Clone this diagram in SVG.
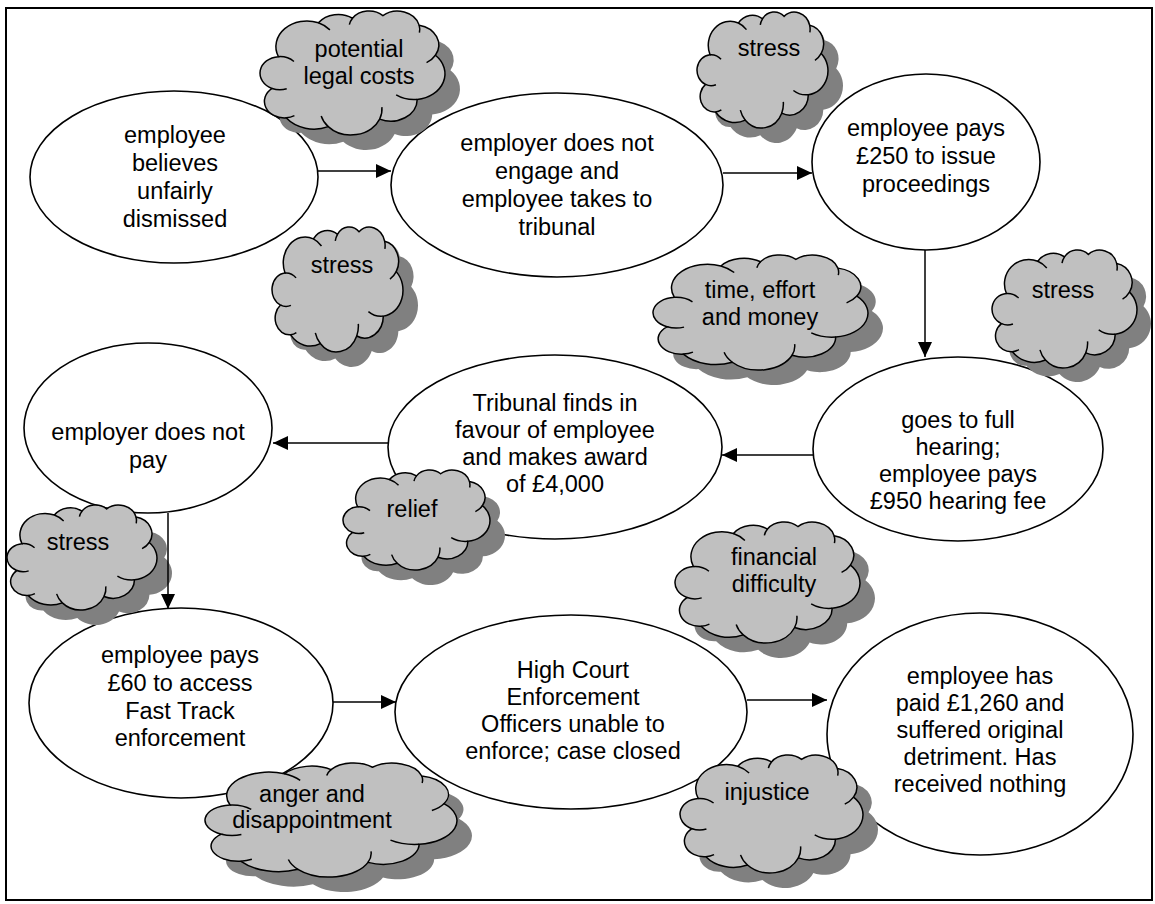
<svg xmlns="http://www.w3.org/2000/svg" xmlns:xlink="http://www.w3.org/1999/xlink" width="1155" height="904" viewBox="0 0 1155 904">
<style>
.el{fill:#fff;stroke:#000;stroke-width:1.6}
.sh{fill:#808080;stroke:none}
.cl{fill:#c0c0c0;stroke:#000;stroke-width:1.5;vector-effect:non-scaling-stroke}
.ci{fill:none;stroke:#000;stroke-width:1.5;vector-effect:non-scaling-stroke}
.ar{fill:none;stroke:#000;stroke-width:1.5;marker-end:url(#ah)}
text{font-family:"Liberation Sans",Arial,sans-serif;font-size:23.5px;text-anchor:middle;fill:#000}
</style>
<defs>
<marker id="ah" markerUnits="userSpaceOnUse" markerWidth="16" markerHeight="14" refX="15" refY="7" orient="auto">
<path d="M0,0 L15,7 L0,14 Z" fill="#000"/>
</marker>
<path id="cloud" d="M99.5,368.2 A167.2,206.7 0 0 1 315.8,95.2 A132,163.4 0 0 1 500.1,58.5 A108.1,133.7 0 0 1 664.4,37.4 A120.3,148.3 0 0 1 860.1,114.1 A132,163.6 0 0 1 948.2,357 A167.7,207.4 0 0 1 849.8,713 A143.2,176.9 0 0 1 646.8,871.9 A167.2,207.2 0 0 1 368.8,932.5 A191.1,237.1 0 0 1 141.3,861.6 A108,133.1 0 0 1 65.2,624.4 A107.6,133.7 0 0 1 99.5,368.2 Z"/>
</defs>
<rect x="0" y="0" width="1155" height="904" fill="#fff"/>

<g id="e1"><ellipse class="el" cx="174" cy="177" rx="144" ry="86"/>
<text x="175" y="143">employee</text><text x="175" y="171">believes</text><text x="175" y="199">unfairly</text><text x="175" y="227">dismissed</text></g>
<g id="e2"><ellipse class="el" cx="557" cy="185" rx="166" ry="92"/>
<text x="557" y="151">employer does not</text><text x="557" y="179">engage and</text><text x="557" y="207">employee takes to</text><text x="557" y="235">tribunal</text></g>
<g id="e3"><ellipse class="el" cx="926" cy="162" rx="114" ry="88"/>
<text x="926" y="136">employee pays</text><text x="926" y="164">£250 to issue</text><text x="926" y="192">proceedings</text></g>
<g id="e4"><ellipse class="el" cx="958" cy="449" rx="145" ry="92"/>
<text x="958" y="428">goes to full</text><text x="958" y="455">hearing;</text><text x="958" y="482">employee pays</text><text x="958" y="509">£950 hearing fee</text></g>
<g id="e5"><ellipse class="el" cx="555" cy="447" rx="167" ry="92"/>
<text x="555" y="411">Tribunal finds in</text><text x="555" y="438">favour of employee</text><text x="555" y="465">and makes award</text><text x="555" y="492">of £4,000</text></g>
<g id="e6"><ellipse class="el" cx="148" cy="428" rx="124" ry="85"/>
<text x="148" y="440">employer does not</text><text x="148" y="468">pay</text></g>
<g id="e7"><ellipse class="el" cx="181" cy="703" rx="152" ry="95"/>
<text x="180" y="663">employee pays</text><text x="180" y="691">£60 to access</text><text x="180" y="719">Fast Track</text><text x="180" y="746">enforcement</text></g>
<g id="e8"><ellipse class="el" cx="571" cy="712" rx="176" ry="97"/>
<text x="573" y="678">High Court</text><text x="573" y="705">Enforcement</text><text x="573" y="732">Officers unable to</text><text x="573" y="759">enforce; case closed</text></g>
<g id="e9"><ellipse class="el" cx="980" cy="734" rx="153" ry="121"/>
<text x="980" y="684">employee has</text><text x="980" y="711">paid £1,260 and</text><text x="980" y="738">suffered original</text><text x="980" y="765">detriment. Has</text><text x="980" y="792">received nothing</text></g>

<g id="c1"><use xlink:href="#cloud" class="sh" transform="translate(275,26) scale(0.185,0.124)"/>
<path class="cl" transform="translate(260,11) scale(0.185,0.124)" d="M99.5,368.2 A167.2,206.7 0 0 1 315.8,95.2 A132,163.4 0 0 1 500.1,58.5 A108.1,133.7 0 0 1 664.4,37.4 A120.3,148.3 0 0 1 860.1,114.1 A132,163.6 0 0 1 948.2,357 A167.7,207.4 0 0 1 849.8,713 A143.2,176.9 0 0 1 646.8,871.9 A167.2,207.2 0 0 1 368.8,932.5 A191.1,237.1 0 0 1 141.3,861.6 A108,133.1 0 0 1 65.2,624.4 A107.6,133.7 0 0 1 99.5,368.2 Z"/>
<path class="ci" transform="translate(260,11) scale(0.185,0.124)" d="M99.5,368.2 A107.6,133.7 0 0 1 183.6,406.9 M65.2,624.4 A107.6,133.7 0 0 0 144.4,627.1 M141.3,861.6 A108,133.1 0 0 0 186,844.2 M368.8,932.5 A167.2,207.2 0 0 1 330.8,846.4 M646.8,871.9 A167.2,207.2 0 0 0 658.8,774.7 M849.8,713 A167.7,207.4 0 0 1 736,676.7 M860.1,114.1 A120.3,148.3 0 0 1 861.7,175.1 M500.1,58.5 A108.1,133.7 0 0 0 483,110.5 M315.8,95.2 A167.2,206.7 0 0 1 377.8,152.2 M948.2,357 A132,163.6 0 0 1 900.3,416.1"/>
<text x="359" y="57">potential</text><text x="359" y="84">legal costs</text></g>

<g id="c2"><use xlink:href="#cloud" class="sh" transform="translate(712,27) scale(0.131,0.116)"/>
<path class="cl" transform="translate(697,12) scale(0.131,0.116)" d="M99.5,368.2 A167.2,206.7 0 0 1 315.8,95.2 A132,163.4 0 0 1 500.1,58.5 A108.1,133.7 0 0 1 664.4,37.4 A120.3,148.3 0 0 1 860.1,114.1 A132,163.6 0 0 1 948.2,357 A167.7,207.4 0 0 1 849.8,713 A143.2,176.9 0 0 1 646.8,871.9 A167.2,207.2 0 0 1 368.8,932.5 A191.1,237.1 0 0 1 141.3,861.6 A108,133.1 0 0 1 65.2,624.4 A107.6,133.7 0 0 1 99.5,368.2 Z"/>
<path class="ci" transform="translate(697,12) scale(0.131,0.116)" d="M99.5,368.2 A107.6,133.7 0 0 1 183.6,406.9 M65.2,624.4 A107.6,133.7 0 0 0 144.4,627.1 M141.3,861.6 A108,133.1 0 0 0 186,844.2 M368.8,932.5 A167.2,207.2 0 0 1 330.8,846.4 M646.8,871.9 A167.2,207.2 0 0 0 658.8,774.7 M849.8,713 A167.7,207.4 0 0 1 736,676.7 M860.1,114.1 A120.3,148.3 0 0 1 861.7,175.1 M500.1,58.5 A108.1,133.7 0 0 0 483,110.5 M315.8,95.2 A167.2,206.7 0 0 1 377.8,152.2 M948.2,357 A132,163.6 0 0 1 900.3,416.1"/>
<text x="769" y="56">stress</text></g>

<g id="c3"><use xlink:href="#cloud" class="sh" transform="translate(287,242) scale(0.131,0.125)"/>
<path class="cl" transform="translate(272,227) scale(0.131,0.125)" d="M99.5,368.2 A167.2,206.7 0 0 1 315.8,95.2 A132,163.4 0 0 1 500.1,58.5 A108.1,133.7 0 0 1 664.4,37.4 A120.3,148.3 0 0 1 860.1,114.1 A132,163.6 0 0 1 948.2,357 A167.7,207.4 0 0 1 849.8,713 A143.2,176.9 0 0 1 646.8,871.9 A167.2,207.2 0 0 1 368.8,932.5 A191.1,237.1 0 0 1 141.3,861.6 A108,133.1 0 0 1 65.2,624.4 A107.6,133.7 0 0 1 99.5,368.2 Z"/>
<path class="ci" transform="translate(272,227) scale(0.131,0.125)" d="M99.5,368.2 A107.6,133.7 0 0 1 183.6,406.9 M65.2,624.4 A107.6,133.7 0 0 0 144.4,627.1 M141.3,861.6 A108,133.1 0 0 0 186,844.2 M368.8,932.5 A167.2,207.2 0 0 1 330.8,846.4 M646.8,871.9 A167.2,207.2 0 0 0 658.8,774.7 M849.8,713 A167.7,207.4 0 0 1 736,676.7 M860.1,114.1 A120.3,148.3 0 0 1 861.7,175.1 M500.1,58.5 A108.1,133.7 0 0 0 483,110.5 M315.8,95.2 A167.2,206.7 0 0 1 377.8,152.2 M948.2,357 A132,163.6 0 0 1 900.3,416.1"/>
<text x="342" y="273">stress</text></g>

<g id="c4"><use xlink:href="#cloud" class="sh" transform="translate(668,270) scale(0.215,0.115)"/>
<path class="cl" transform="translate(653,255) scale(0.215,0.115)" d="M99.5,368.2 A167.2,206.7 0 0 1 315.8,95.2 A132,163.4 0 0 1 500.1,58.5 A108.1,133.7 0 0 1 664.4,37.4 A120.3,148.3 0 0 1 860.1,114.1 A132,163.6 0 0 1 948.2,357 A167.7,207.4 0 0 1 849.8,713 A143.2,176.9 0 0 1 646.8,871.9 A167.2,207.2 0 0 1 368.8,932.5 A191.1,237.1 0 0 1 141.3,861.6 A108,133.1 0 0 1 65.2,624.4 A107.6,133.7 0 0 1 99.5,368.2 Z"/>
<path class="ci" transform="translate(653,255) scale(0.215,0.115)" d="M99.5,368.2 A107.6,133.7 0 0 1 183.6,406.9 M65.2,624.4 A107.6,133.7 0 0 0 144.4,627.1 M141.3,861.6 A108,133.1 0 0 0 186,844.2 M368.8,932.5 A167.2,207.2 0 0 1 330.8,846.4 M646.8,871.9 A167.2,207.2 0 0 0 658.8,774.7 M849.8,713 A167.7,207.4 0 0 1 736,676.7 M860.1,114.1 A120.3,148.3 0 0 1 861.7,175.1 M500.1,58.5 A108.1,133.7 0 0 0 483,110.5 M315.8,95.2 A167.2,206.7 0 0 1 377.8,152.2 M948.2,357 A132,163.6 0 0 1 900.3,416.1"/>
<text x="760" y="298">time, effort</text><text x="760" y="325">and money</text></g>

<g id="c5"><use xlink:href="#cloud" class="sh" transform="translate(1006,264) scale(0.145,0.118)"/>
<path class="cl" transform="translate(992,250) scale(0.145,0.118)" d="M99.5,368.2 A167.2,206.7 0 0 1 315.8,95.2 A132,163.4 0 0 1 500.1,58.5 A108.1,133.7 0 0 1 664.4,37.4 A120.3,148.3 0 0 1 860.1,114.1 A132,163.6 0 0 1 948.2,357 A167.7,207.4 0 0 1 849.8,713 A143.2,176.9 0 0 1 646.8,871.9 A167.2,207.2 0 0 1 368.8,932.5 A191.1,237.1 0 0 1 141.3,861.6 A108,133.1 0 0 1 65.2,624.4 A107.6,133.7 0 0 1 99.5,368.2 Z"/>
<path class="ci" transform="translate(992,250) scale(0.145,0.118)" d="M99.5,368.2 A107.6,133.7 0 0 1 183.6,406.9 M65.2,624.4 A107.6,133.7 0 0 0 144.4,627.1 M141.3,861.6 A108,133.1 0 0 0 186,844.2 M368.8,932.5 A167.2,207.2 0 0 1 330.8,846.4 M646.8,871.9 A167.2,207.2 0 0 0 658.8,774.7 M849.8,713 A167.7,207.4 0 0 1 736,676.7 M860.1,114.1 A120.3,148.3 0 0 1 861.7,175.1 M500.1,58.5 A108.1,133.7 0 0 0 483,110.5 M315.8,95.2 A167.2,206.7 0 0 1 377.8,152.2 M948.2,357 A132,163.6 0 0 1 900.3,416.1"/>
<text x="1063" y="298">stress</text></g>

<g id="c6"><use xlink:href="#cloud" class="sh" transform="translate(358,485) scale(0.147,0.1)"/>
<path class="cl" transform="translate(343,470) scale(0.147,0.1)" d="M99.5,368.2 A167.2,206.7 0 0 1 315.8,95.2 A132,163.4 0 0 1 500.1,58.5 A108.1,133.7 0 0 1 664.4,37.4 A120.3,148.3 0 0 1 860.1,114.1 A132,163.6 0 0 1 948.2,357 A167.7,207.4 0 0 1 849.8,713 A143.2,176.9 0 0 1 646.8,871.9 A167.2,207.2 0 0 1 368.8,932.5 A191.1,237.1 0 0 1 141.3,861.6 A108,133.1 0 0 1 65.2,624.4 A107.6,133.7 0 0 1 99.5,368.2 Z"/>
<path class="ci" transform="translate(343,470) scale(0.147,0.1)" d="M99.5,368.2 A107.6,133.7 0 0 1 183.6,406.9 M65.2,624.4 A107.6,133.7 0 0 0 144.4,627.1 M141.3,861.6 A108,133.1 0 0 0 186,844.2 M368.8,932.5 A167.2,207.2 0 0 1 330.8,846.4 M646.8,871.9 A167.2,207.2 0 0 0 658.8,774.7 M849.8,713 A167.7,207.4 0 0 1 736,676.7 M860.1,114.1 A120.3,148.3 0 0 1 861.7,175.1 M500.1,58.5 A108.1,133.7 0 0 0 483,110.5 M315.8,95.2 A167.2,206.7 0 0 1 377.8,152.2 M948.2,357 A132,163.6 0 0 1 900.3,416.1"/>
<text x="412" y="517">relief</text></g>

<g id="c7"><use xlink:href="#cloud" class="sh" transform="translate(22,520) scale(0.15,0.105)"/>
<path class="cl" transform="translate(7,505) scale(0.15,0.105)" d="M99.5,368.2 A167.2,206.7 0 0 1 315.8,95.2 A132,163.4 0 0 1 500.1,58.5 A108.1,133.7 0 0 1 664.4,37.4 A120.3,148.3 0 0 1 860.1,114.1 A132,163.6 0 0 1 948.2,357 A167.7,207.4 0 0 1 849.8,713 A143.2,176.9 0 0 1 646.8,871.9 A167.2,207.2 0 0 1 368.8,932.5 A191.1,237.1 0 0 1 141.3,861.6 A108,133.1 0 0 1 65.2,624.4 A107.6,133.7 0 0 1 99.5,368.2 Z"/>
<path class="ci" transform="translate(7,505) scale(0.15,0.105)" d="M99.5,368.2 A107.6,133.7 0 0 1 183.6,406.9 M65.2,624.4 A107.6,133.7 0 0 0 144.4,627.1 M141.3,861.6 A108,133.1 0 0 0 186,844.2 M368.8,932.5 A167.2,207.2 0 0 1 330.8,846.4 M646.8,871.9 A167.2,207.2 0 0 0 658.8,774.7 M849.8,713 A167.7,207.4 0 0 1 736,676.7 M860.1,114.1 A120.3,148.3 0 0 1 861.7,175.1 M500.1,58.5 A108.1,133.7 0 0 0 483,110.5 M315.8,95.2 A167.2,206.7 0 0 1 377.8,152.2 M948.2,357 A132,163.6 0 0 1 900.3,416.1"/>
<text x="78" y="550">stress</text></g>

<g id="c8"><use xlink:href="#cloud" class="sh" transform="translate(690,537) scale(0.185,0.121)"/>
<path class="cl" transform="translate(675,522) scale(0.185,0.121)" d="M99.5,368.2 A167.2,206.7 0 0 1 315.8,95.2 A132,163.4 0 0 1 500.1,58.5 A108.1,133.7 0 0 1 664.4,37.4 A120.3,148.3 0 0 1 860.1,114.1 A132,163.6 0 0 1 948.2,357 A167.7,207.4 0 0 1 849.8,713 A143.2,176.9 0 0 1 646.8,871.9 A167.2,207.2 0 0 1 368.8,932.5 A191.1,237.1 0 0 1 141.3,861.6 A108,133.1 0 0 1 65.2,624.4 A107.6,133.7 0 0 1 99.5,368.2 Z"/>
<path class="ci" transform="translate(675,522) scale(0.185,0.121)" d="M99.5,368.2 A107.6,133.7 0 0 1 183.6,406.9 M65.2,624.4 A107.6,133.7 0 0 0 144.4,627.1 M141.3,861.6 A108,133.1 0 0 0 186,844.2 M368.8,932.5 A167.2,207.2 0 0 1 330.8,846.4 M646.8,871.9 A167.2,207.2 0 0 0 658.8,774.7 M849.8,713 A167.7,207.4 0 0 1 736,676.7 M860.1,114.1 A120.3,148.3 0 0 1 861.7,175.1 M500.1,58.5 A108.1,133.7 0 0 0 483,110.5 M315.8,95.2 A167.2,206.7 0 0 1 377.8,152.2 M948.2,357 A132,163.6 0 0 1 900.3,416.1"/>
<text x="774" y="565">financial</text><text x="774" y="592">difficulty</text></g>

<g id="c9"><use xlink:href="#cloud" class="sh" transform="translate(220,778) scale(0.252,0.114)"/>
<path class="cl" transform="translate(205,763) scale(0.252,0.114)" d="M99.5,368.2 A167.2,206.7 0 0 1 315.8,95.2 A132,163.4 0 0 1 500.1,58.5 A108.1,133.7 0 0 1 664.4,37.4 A120.3,148.3 0 0 1 860.1,114.1 A132,163.6 0 0 1 948.2,357 A167.7,207.4 0 0 1 849.8,713 A143.2,176.9 0 0 1 646.8,871.9 A167.2,207.2 0 0 1 368.8,932.5 A191.1,237.1 0 0 1 141.3,861.6 A108,133.1 0 0 1 65.2,624.4 A107.6,133.7 0 0 1 99.5,368.2 Z"/>
<path class="ci" transform="translate(205,763) scale(0.252,0.114)" d="M99.5,368.2 A107.6,133.7 0 0 1 183.6,406.9 M65.2,624.4 A107.6,133.7 0 0 0 144.4,627.1 M141.3,861.6 A108,133.1 0 0 0 186,844.2 M368.8,932.5 A167.2,207.2 0 0 1 330.8,846.4 M646.8,871.9 A167.2,207.2 0 0 0 658.8,774.7 M849.8,713 A167.7,207.4 0 0 1 736,676.7 M860.1,114.1 A120.3,148.3 0 0 1 861.7,175.1 M500.1,58.5 A108.1,133.7 0 0 0 483,110.5 M315.8,95.2 A167.2,206.7 0 0 1 377.8,152.2 M948.2,357 A132,163.6 0 0 1 900.3,416.1"/>
<text x="312" y="802">anger and</text><text x="312" y="828">disappointment</text></g>

<g id="c10"><use xlink:href="#cloud" class="sh" transform="translate(695,770) scale(0.183,0.118)"/>
<path class="cl" transform="translate(680,755) scale(0.183,0.118)" d="M99.5,368.2 A167.2,206.7 0 0 1 315.8,95.2 A132,163.4 0 0 1 500.1,58.5 A108.1,133.7 0 0 1 664.4,37.4 A120.3,148.3 0 0 1 860.1,114.1 A132,163.6 0 0 1 948.2,357 A167.7,207.4 0 0 1 849.8,713 A143.2,176.9 0 0 1 646.8,871.9 A167.2,207.2 0 0 1 368.8,932.5 A191.1,237.1 0 0 1 141.3,861.6 A108,133.1 0 0 1 65.2,624.4 A107.6,133.7 0 0 1 99.5,368.2 Z"/>
<path class="ci" transform="translate(680,755) scale(0.183,0.118)" d="M99.5,368.2 A107.6,133.7 0 0 1 183.6,406.9 M65.2,624.4 A107.6,133.7 0 0 0 144.4,627.1 M141.3,861.6 A108,133.1 0 0 0 186,844.2 M368.8,932.5 A167.2,207.2 0 0 1 330.8,846.4 M646.8,871.9 A167.2,207.2 0 0 0 658.8,774.7 M849.8,713 A167.7,207.4 0 0 1 736,676.7 M860.1,114.1 A120.3,148.3 0 0 1 861.7,175.1 M500.1,58.5 A108.1,133.7 0 0 0 483,110.5 M315.8,95.2 A167.2,206.7 0 0 1 377.8,152.2 M948.2,357 A132,163.6 0 0 1 900.3,416.1"/>
<text x="767" y="800">injustice</text></g>

<g id="connectors">
<path class="ar" d="M318,171 H391"/>
<path class="ar" d="M723,173 H812"/>
<path class="ar" d="M925,250 V357"/>
<path class="ar" d="M813,455 H722"/>
<path class="ar" d="M388,443 H273"/>
<path class="ar" d="M168,513 V609"/>
<path class="ar" d="M333,702 H396"/>
<path class="ar" d="M747,700 H827"/>
</g>
<rect x="6" y="8" width="1146" height="892" fill="none" stroke="#000" stroke-width="2"/>
</svg>
